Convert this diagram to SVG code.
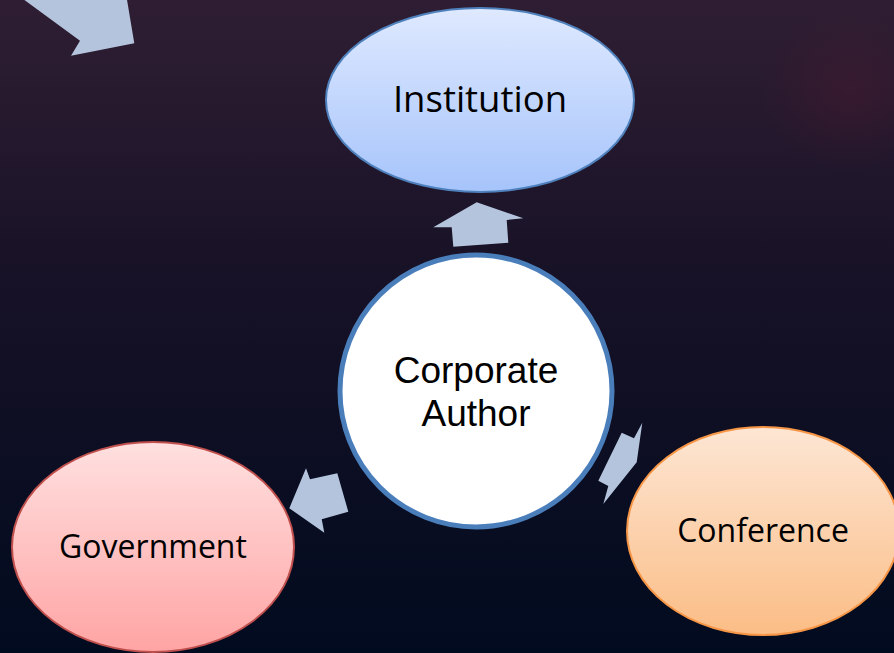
<svg xmlns="http://www.w3.org/2000/svg" width="894" height="653" viewBox="0 0 894 653">
<defs>
<linearGradient id="bg" x1="0" y1="0" x2="0" y2="1">
<stop offset="0" stop-color="#2f1e33"/>
<stop offset="0.45" stop-color="#161126"/>
<stop offset="1" stop-color="#010b1f"/>
</linearGradient>
<radialGradient id="blob" cx="0.5" cy="0.5" r="0.5">
<stop offset="0" stop-color="#4a1a2e" stop-opacity="0.45"/>
<stop offset="1" stop-color="#4a1a2e" stop-opacity="0"/>
</radialGradient>
<linearGradient id="gBlue" x1="0" y1="0" x2="0" y2="1">
<stop offset="0" stop-color="#dfe9ff"/>
<stop offset="1" stop-color="#a6c4fb"/>
</linearGradient>
<linearGradient id="gRed" x1="0" y1="0" x2="0" y2="1">
<stop offset="0" stop-color="#ffe0e0"/>
<stop offset="1" stop-color="#ffa4a4"/>
</linearGradient>
<linearGradient id="gOrange" x1="0" y1="0" x2="0" y2="1">
<stop offset="0" stop-color="#fde6d4"/>
<stop offset="1" stop-color="#fbbd86"/>
</linearGradient>
</defs>
<style>
.lbl{font-family:"Open Sans","Noto Sans",sans-serif;fill:#000;text-anchor:middle}
.lbl2{font-family:"Liberation Sans",Arial,sans-serif;fill:#000;text-anchor:middle}
.arrow{fill:#b4c4dc;stroke:none}
</style>
<rect x="0" y="0" width="894" height="653" fill="url(#bg)"/>
<ellipse cx="850" cy="90" rx="90" ry="80" fill="url(#blob)"/>
<g id="connectors">
<polygon class="arrow" points="21.7,-2 80,40.7 71,55.7 134.3,43.3 126.7,-2"/>
<polygon class="arrow" points="476.7,202.3 523.3,218.3 506.7,220 508.3,242.7 453.3,246.7 451.7,227.3 433.3,227.3"/>
<polygon class="arrow" points="621.7,432.7 634,438.3 642.3,422.7 636.7,462.3 603.3,504 608.3,486 598.3,480.7"/>
<polygon class="arrow" points="289.3,508.3 306,468.3 310,479.3 337.3,473.3 348.3,511.7 321.7,519.3 324.3,532.7"/>
</g>
<g id="institution">
<ellipse cx="480" cy="100" rx="154" ry="92" fill="url(#gBlue)" stroke="#4f81bd" stroke-width="2"/>
<text class="lbl" x="480" y="111.5" font-size="36.5">Institution</text>
</g>
<g id="corporate-author">
<circle cx="476" cy="391" r="136" fill="#ffffff" stroke="#4a7ebb" stroke-width="5"/>
<text class="lbl2" x="476" y="383" font-size="37">Corporate</text>
<text class="lbl2" x="476" y="426" font-size="37">Author</text>
</g>
<g id="government">
<ellipse cx="153" cy="547" rx="141" ry="105" fill="url(#gRed)" stroke="#c0504d" stroke-width="2"/>
<text class="lbl" x="153" y="558" font-size="32">Government</text>
</g>
<g id="conference">
<ellipse cx="763" cy="531" rx="136" ry="104" fill="url(#gOrange)" stroke="#f79646" stroke-width="2"/>
<text class="lbl" x="763" y="541.5" font-size="32">Conference</text>
</g>
</svg>
